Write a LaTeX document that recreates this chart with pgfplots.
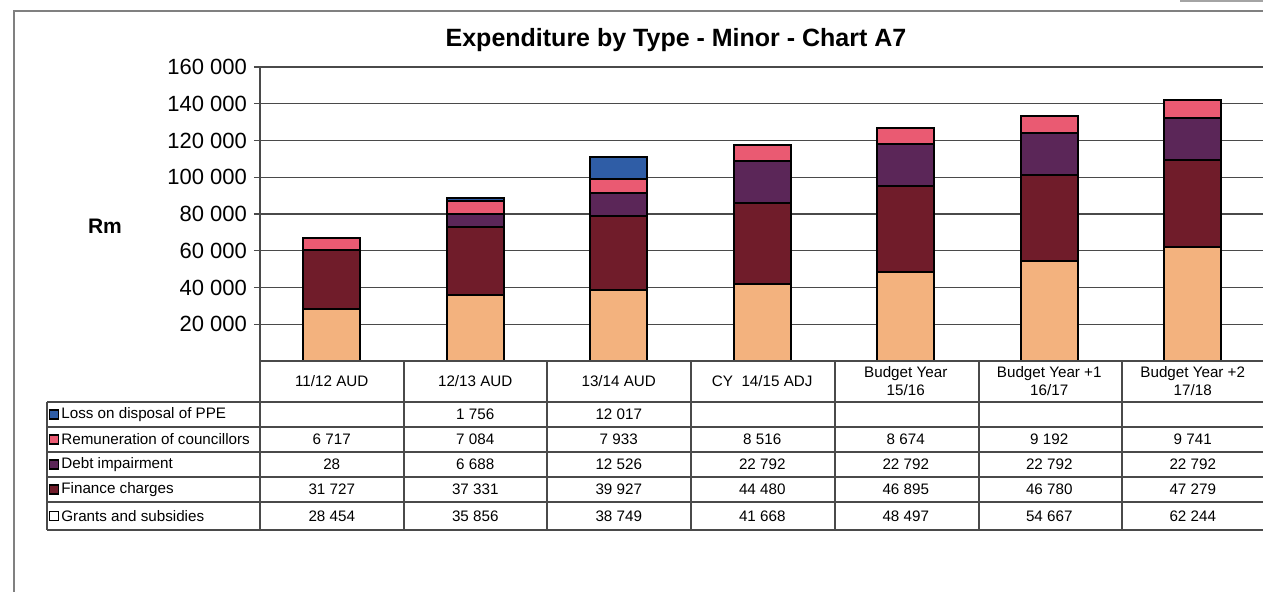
\documentclass[border=0pt]{standalone}
\usepackage{fontspec}
\setmainfont{Liberation Sans}
\usepackage{pgfplots}
\pgfplotsset{compat=1.18}
\definecolor{grants}{HTML}{F3B27E}
\definecolor{finance}{HTML}{701C2A}
\definecolor{debt}{HTML}{5B2658}
\definecolor{remun}{HTML}{EA5A72}
\definecolor{loss}{HTML}{2F5DA6}
\definecolor{rule}{HTML}{4A4A4A}

\begin{document}
\begin{tikzpicture}
\begin{axis}[scale only axis,
  width=502.25pt, height=147pt,
  xmin=-0.5, xmax=6.5, ymin=0, ymax=160000,
  axis x line=none, axis y line*=left,
  axis line style={rule, line width=1pt},
  ytick={20000,40000,...,160000}, scaled y ticks=false,
  yticklabels={20 000,40 000,60 000,80 000,100 000,120 000,140 000,160 000},
  tick align=outside, major tick length=3pt,
  tick style={rule, line width=0.6pt},
  yticklabel style={font=\fontsize{11}{12}\selectfont},
  ymajorgrids, grid style={rule, line width=0.6pt},
  ybar stacked, bar width=0.4,
  every axis plot/.append style={draw=black, line width=1pt}]
\addplot[fill=grants] coordinates {(0,28454) (1,35856) (2,38749) (3,41668) (4,48497) (5,54667) (6,62244)};
\addplot[fill=finance] coordinates {(0,31727) (1,37331) (2,39927) (3,44480) (4,46895) (5,46780) (6,47279)};
\addplot[fill=debt] coordinates {(0,28) (1,6688) (2,12526) (3,22792) (4,22792) (5,22792) (6,22792)};
\addplot[fill=remun] coordinates {(0,6717) (1,7084) (2,7933) (3,8516) (4,8674) (5,9192) (6,9741)};
\addplot[fill=loss] coordinates {(0,0) (1,1756) (2,12017) (3,0) (4,0) (5,0) (6,0)};
\coordinate (o) at (rel axis cs:0,0);
\end{axis}

\pgfresetboundingbox
% everything below in reference pixels (origin bottom left), plot corner at (260,231)
\begin{scope}[shift={(o)}, xshift=-130pt, yshift=-115.5pt, x=0.5pt, y=0.5pt]
\path[use as bounding box] (0,0) rectangle (1263,592);
% chart frame
\draw[rule!70, line width=0.6pt] (14,0) -- (14,581) -- (1263,581);
\draw[rule!50, line width=0.6pt] (1180,591) -- (1263,591);
\node[font=\fontsize{12.5}{14}\selectfont\bfseries] at (676,552) {Expenditure by Type - Minor - Chart A7};
\node[font=\fontsize{10.5}{12}\selectfont\bfseries] at (105,366) {Rm};

% data table
\begin{scope}[rule, line width=0.7pt]
\draw (260,231) -- (1263,231);
\foreach \y in {190,165,140,115,90,62} \draw (47,\y) -- (1263,\y);
\draw (47,190) -- (47,62);
\foreach \x in {260,404,547,691,835,979,1122} \draw (\x,231) -- (\x,62);
\end{scope}
\begin{scope}[font=\fontsize{7.6}{8.6}\selectfont]
\foreach \t [count=\i from 0] in {11/12 AUD,12/13 AUD,13/14 AUD,CY\ \ 14/15 ADJ}
  \node at ({260+143.5*(\i+0.5)},211) {\t};
\node[align=center] at ({260+143.5*4.5},211) {Budget Year\\15/16};
\node[align=center] at ({260+143.5*5.5},211) {Budget Year +1\\16/17};
\node[align=center] at ({260+143.5*6.5},211) {Budget Year +2\\17/18};
% row labels with keys
\foreach \c/\lab/\y in {loss/Loss on disposal of PPE/177.5, remun/Remuneration of councillors/152.5,
    debt/Debt impairment/127.5, finance/Finance charges/102.5, white/Grants and subsidies/76} {
  \filldraw[fill=\c, draw=black, line width=0.8pt] (49.5,\y-4.5) rectangle (58.5,\y+4.5);
  \node[anchor=west, inner sep=0pt] at (61,\y) {\lab};
}
\foreach \v [count=\i from 0] in {,1 756,12 017,,,,}
  \node at ({260+143.5*(\i+0.5)},177.5) {\v};
\foreach \v [count=\i from 0] in {6 717,7 084,7 933,8 516,8 674,9 192,9 741}
  \node at ({260+143.5*(\i+0.5)},152.5) {\v};
\foreach \v [count=\i from 0] in {28,6 688,12 526,22 792,22 792,22 792,22 792}
  \node at ({260+143.5*(\i+0.5)},127.5) {\v};
\foreach \v [count=\i from 0] in {31 727,37 331,39 927,44 480,46 895,46 780,47 279}
  \node at ({260+143.5*(\i+0.5)},102.5) {\v};
\foreach \v [count=\i from 0] in {28 454,35 856,38 749,41 668,48 497,54 667,62 244}
  \node at ({260+143.5*(\i+0.5)},76) {\v};
\end{scope}
\end{scope}
\end{tikzpicture}
\end{document}
